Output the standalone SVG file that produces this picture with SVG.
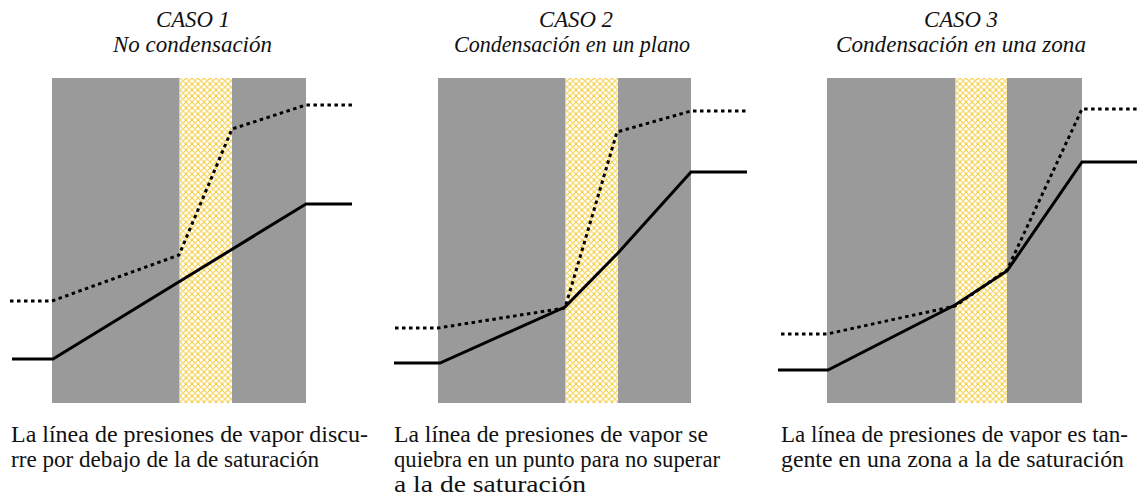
<svg xmlns="http://www.w3.org/2000/svg" width="1142" height="502" viewBox="0 0 1142 502">
  <defs>
    <pattern id="hatch" width="6" height="6" patternUnits="userSpaceOnUse">
      <rect width="6" height="6" fill="#ffffff"/>
      <path d="M0,0 L6,6 M6,0 L0,6" stroke="#f6cd40" stroke-width="1.3" stroke-dasharray="1.3 0.4"/>
    </pattern>
  </defs>
  <style>
    .wall { fill: #9a9a9a; }
    .ins { fill: url(#hatch); }
    .edge { stroke: #cfcfcf; stroke-width: 1.2; }
    .sat { fill: none; stroke: #000; stroke-width: 3; stroke-dasharray: 3.5 3.5; }
    .vap { fill: none; stroke: #000; stroke-width: 3; stroke-linejoin: miter; }
    .title { font-family: "Liberation Serif", "DejaVu Serif", serif; font-style: italic; font-size: 23px; fill: #111; text-anchor: middle; }
    .cap { font-family: "Liberation Serif", "DejaVu Serif", serif; font-size: 23.5px; fill: #111; }
  </style>
  <rect width="1142" height="502" fill="#ffffff"/>

  <g id="caso1">
    <rect class="wall" x="52" y="78" width="254" height="325"/>
    <rect class="ins" x="179" y="78" width="53" height="325"/>
    <line class="edge" x1="179.6" y1="78" x2="179.6" y2="403"/>
    <text class="title" x="193" y="27" textLength="74" lengthAdjust="spacingAndGlyphs">CASO 1</text>
    <text class="title" x="192.5" y="52" textLength="159" lengthAdjust="spacingAndGlyphs">No condensación</text>
    <text class="cap" x="11" y="442" textLength="357" lengthAdjust="spacingAndGlyphs">La línea de presiones de vapor discu-</text>
    <text class="cap" x="11" y="467" textLength="308" lengthAdjust="spacingAndGlyphs">rre por debajo de la de saturación</text>
  </g>

  <g id="caso2">
    <rect class="wall" x="438" y="78" width="253" height="325"/>
    <rect class="ins" x="565" y="78" width="53" height="325"/>
    <line class="edge" x1="565.6" y1="78" x2="565.6" y2="403"/>
    <text class="title" x="576" y="27" textLength="74" lengthAdjust="spacingAndGlyphs">CASO 2</text>
    <text class="title" x="572" y="52" textLength="236" lengthAdjust="spacingAndGlyphs">Condensación en un plano</text>
    <text class="cap" x="394" y="442" textLength="314" lengthAdjust="spacingAndGlyphs">La línea de presiones de vapor se</text>
    <text class="cap" x="394" y="467" textLength="326" lengthAdjust="spacingAndGlyphs">quiebra en un punto para no superar</text>
    <text class="cap" x="394" y="492" textLength="192" lengthAdjust="spacingAndGlyphs">a la de saturación</text>
  </g>

  <g id="caso3">
    <rect class="wall" x="827" y="78" width="255" height="325"/>
    <rect class="ins" x="955" y="78" width="52" height="325"/>
    <line class="edge" x1="955.6" y1="78" x2="955.6" y2="403"/>
    <text class="title" x="961" y="27" textLength="74" lengthAdjust="spacingAndGlyphs">CASO 3</text>
    <text class="title" x="961" y="52" textLength="250" lengthAdjust="spacingAndGlyphs">Condensación en una zona</text>
    <text class="cap" x="781" y="442" textLength="347" lengthAdjust="spacingAndGlyphs">La línea de presiones de vapor es tan-</text>
    <text class="cap" x="781" y="467" textLength="343" lengthAdjust="spacingAndGlyphs">gente en una zona a la de saturación</text>
  </g>

  <g id="connectors">
    <polyline id="sat1" class="sat" points="10,301 52,301 179,255 232,129 306,105 353,105"/>
    <polyline id="vap1" class="vap" points="12,359 53,359 306,204 352,204"/>
    <polyline id="sat2" class="sat" points="395,328 438,328 565,308 617,132 691,111 747,111"/>
    <polyline id="vap2" class="vap" points="394,363 440,363 565,307 618,253 691,172 747,172"/>
    <polyline id="sat3" class="sat" points="781,334 827,334 955,306 1007,270 1082,109 1140,109"/>
    <polyline id="vap3" class="vap" points="778,370 828,370 955,305 1007,271 1082,162 1137,162"/>
  </g>
</svg>
